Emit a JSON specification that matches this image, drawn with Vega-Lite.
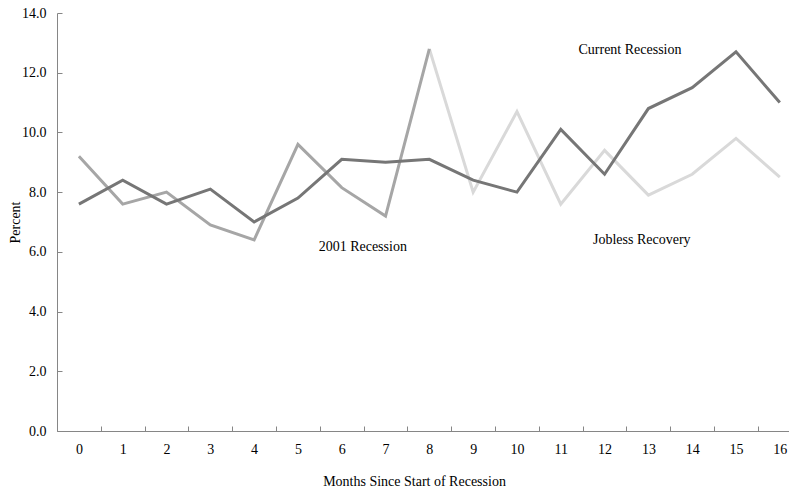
{
  "$schema": "https://vega.github.io/schema/vega-lite/v6.json",
  "autosize": {"type": "none"},
  "padding": {"left": 57, "top": 13, "right": 0, "bottom": 58},
  "width": 732,
  "height": 418,
  "background": "white",
  "config": {
    "view": {"stroke": null},
    "font": "Liberation Serif",
    "axis": {"grid": false, "domainColor": "#868686", "tickColor": "#868686", "labelColor": "black", "titleColor": "black", "labelFont": "Liberation Serif", "titleFont": "Liberation Serif", "labelFontSize": 14, "titleFontSize": 14, "titleFontWeight": "normal"}
  },
  "datasets": {
    "lines": [
      {"series": "Current Recession", "month": 0, "value": 7.6},
      {"series": "Current Recession", "month": 1, "value": 8.4},
      {"series": "Current Recession", "month": 2, "value": 7.6},
      {"series": "Current Recession", "month": 3, "value": 8.1},
      {"series": "Current Recession", "month": 4, "value": 7.0},
      {"series": "Current Recession", "month": 5, "value": 7.8},
      {"series": "Current Recession", "month": 6, "value": 9.1},
      {"series": "Current Recession", "month": 7, "value": 9.0},
      {"series": "Current Recession", "month": 8, "value": 9.1},
      {"series": "Current Recession", "month": 9, "value": 8.4},
      {"series": "Current Recession", "month": 10, "value": 8.0},
      {"series": "Current Recession", "month": 11, "value": 10.1},
      {"series": "Current Recession", "month": 12, "value": 8.6},
      {"series": "Current Recession", "month": 13, "value": 10.8},
      {"series": "Current Recession", "month": 14, "value": 11.5},
      {"series": "Current Recession", "month": 15, "value": 12.7},
      {"series": "Current Recession", "month": 16, "value": 11.0},
      {"series": "2001 Recession", "month": 0, "value": 9.2},
      {"series": "2001 Recession", "month": 1, "value": 7.6},
      {"series": "2001 Recession", "month": 2, "value": 8.0},
      {"series": "2001 Recession", "month": 3, "value": 6.9},
      {"series": "2001 Recession", "month": 4, "value": 6.4},
      {"series": "2001 Recession", "month": 5, "value": 9.6},
      {"series": "2001 Recession", "month": 6, "value": 8.15},
      {"series": "2001 Recession", "month": 7, "value": 7.2},
      {"series": "2001 Recession", "month": 8, "value": 12.8},
      {"series": "Jobless Recovery", "month": 8, "value": 12.8},
      {"series": "Jobless Recovery", "month": 9, "value": 8.0},
      {"series": "Jobless Recovery", "month": 10, "value": 10.7},
      {"series": "Jobless Recovery", "month": 11, "value": 7.6},
      {"series": "Jobless Recovery", "month": 12, "value": 9.4},
      {"series": "Jobless Recovery", "month": 13, "value": 7.9},
      {"series": "Jobless Recovery", "month": 14, "value": 8.6},
      {"series": "Jobless Recovery", "month": 15, "value": 9.8},
      {"series": "Jobless Recovery", "month": 16, "value": 8.5}
    ],
    "labels": [
      {"label": "Current Recession", "month": 12.58, "value": 12.75},
      {"label": "2001 Recession", "month": 6.48, "value": 6.17},
      {"label": "Jobless Recovery", "month": 12.85, "value": 6.4}
    ]
  },
  "encoding": {
    "x": {
      "field": "month", "type": "quantitative",
      "scale": {"domain": [-0.5, 16.21], "nice": false, "zero": false},
      "axis": {
        "title": "Months Since Start of Recession",
        "values": [-0.5, 0.5, 1.5, 2.5, 3.5, 4.5, 5.5, 6.5, 7.5, 8.5, 9.5, 10.5, 11.5, 12.5, 13.5, 14.5, 15.5],
        "labelExpr": "format(datum.value + 0.5, 'd')",
        "labelOffset": 21.9,
        "tickSize": -5,
        "labelPadding": 16,
        "labelFlush": false,
        "labelOverlap": false,
        "titleX": 357, "titleAnchor": "middle", "titleAlign": "center",
        "titleY": 54, "titleBaseline": "alphabetic"
      }
    },
    "y": {
      "field": "value", "type": "quantitative",
      "scale": {"domain": [0, 14], "nice": false},
      "axis": {
        "title": "Percent",
        "values": [0, 2, 4, 6, 8, 10, 12, 14],
        "format": ".1f",
        "tickSize": -5,
        "labelPadding": 16,
        "labelBaseline": "middle",
        "titlePadding": -1
      }
    }
  },
  "layer": [
    {
      "data": {"name": "lines"},
      "transform": [{"filter": "datum.series === 'Jobless Recovery'"}],
      "mark": {"type": "line", "color": "#d9d9d9", "strokeWidth": 3},
      "encoding": {}
    },
    {
      "data": {"name": "lines"},
      "transform": [{"filter": "datum.series === '2001 Recession'"}],
      "mark": {"type": "line", "color": "#a6a6a6", "strokeWidth": 3},
      "encoding": {}
    },
    {
      "data": {"name": "lines"},
      "transform": [{"filter": "datum.series === 'Current Recession'"}],
      "mark": {"type": "line", "color": "#767676", "strokeWidth": 3},
      "encoding": {}
    },
    {
      "data": {"name": "labels"},
      "mark": {"type": "text", "font": "Liberation Serif", "fontSize": 14, "color": "black", "align": "center", "baseline": "middle"},
      "encoding": {"text": {"field": "label"}}
    }
  ]
}
